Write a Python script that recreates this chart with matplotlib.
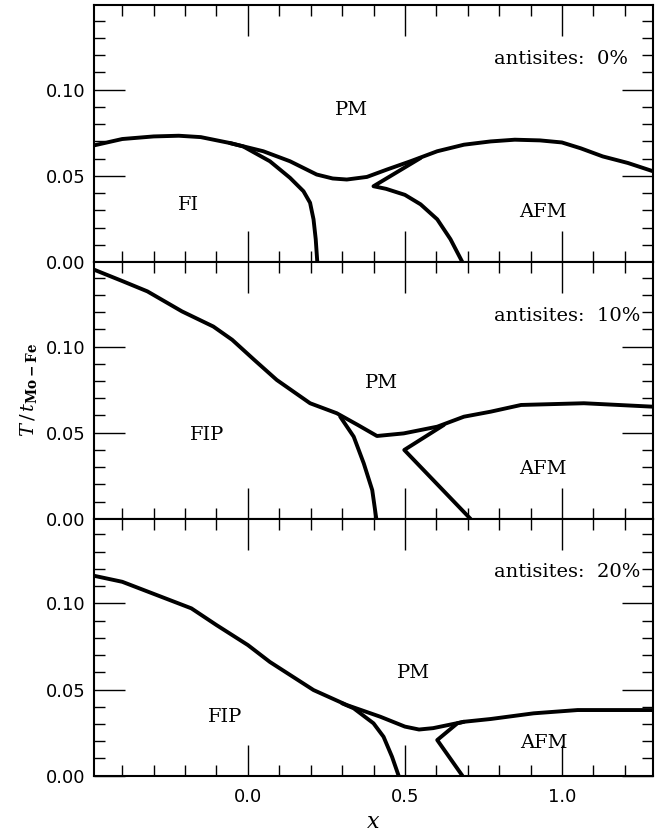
import numpy as np
import matplotlib
matplotlib.use('Agg')
import matplotlib.pyplot as plt
from matplotlib.ticker import MultipleLocator, FormatStrFormatter

plt.rcParams['mathtext.fontset'] = 'dejavuserif'

# phase boundaries, one set per antisite concentration
# 0 % antisites
pm0_x = [-0.49, -0.40, -0.30, -0.22, -0.15, -0.058, 0.049, 0.134, 0.219, 0.27, 0.315, 0.379, 0.443,
         0.518, 0.603, 0.688, 0.773, 0.85, 0.93, 1.00, 1.06, 1.13, 1.21, 1.29]
pm0_y = [0.0677, 0.0714, 0.0729, 0.0733, 0.0725, 0.0691, 0.0643, 0.0585, 0.0508, 0.0485, 0.0479,
         0.0494, 0.0537, 0.0585, 0.0643, 0.0681, 0.0700, 0.0710, 0.0706, 0.0694, 0.0660, 0.0613,
         0.0575, 0.0527]
fi0_x = [-0.058, -0.015, 0.07, 0.134, 0.177, 0.198, 0.209, 0.216, 0.221]
fi0_y = [0.0691, 0.0671, 0.0585, 0.0489, 0.0411, 0.0344, 0.0248, 0.0133, 0.0]
afm0_x = [0.55, 0.475, 0.400, 0.44, 0.50, 0.55, 0.603, 0.645, 0.683]
afm0_y = [0.0604, 0.0522, 0.0440, 0.0425, 0.0390, 0.0335, 0.0248, 0.0133, 0.0]

# 10 % antisites
pm10_x = [-0.49, -0.40, -0.32, -0.21, -0.11, -0.05, 0.02, 0.092, 0.198, 0.283, 0.35, 0.411,
          0.496, 0.603, 0.688, 0.773, 0.87, 1.07, 1.29]
pm10_y = [0.1446, 0.1380, 0.1320, 0.1204, 0.1116, 0.1039, 0.0923, 0.0806, 0.0671, 0.0613, 0.0545,
          0.0481, 0.0496, 0.0535, 0.0593, 0.0622, 0.0661, 0.0671, 0.0651]
fip10_x = [0.294, 0.337, 0.369, 0.396, 0.409]
fip10_y = [0.0593, 0.0477, 0.0322, 0.0167, 0.0]
afm10_x = [0.624, 0.498, 0.709]
afm10_y = [0.0545, 0.0400, 0.0]

# 20 % antisites
pm20_x = [-0.49, -0.40, -0.29, -0.18, -0.10, 0.0, 0.07, 0.209, 0.315, 0.422, 0.50, 0.545, 0.59,
          0.688, 0.773, 0.91, 1.05, 1.29]
pm20_y = [0.1160, 0.1125, 0.1048, 0.0971, 0.0874, 0.0758, 0.0660, 0.0497, 0.0410, 0.0342, 0.0285,
          0.0268, 0.0276, 0.0313, 0.0329, 0.0362, 0.0381, 0.0381]
fip20_x = [0.30, 0.337, 0.40, 0.432, 0.459, 0.480]
fip20_y = [0.0420, 0.0391, 0.0304, 0.0226, 0.0110, 0.0]
afm20_x = [0.688, 0.667, 0.603, 0.683]
afm20_y = [0.0313, 0.0304, 0.0207, 0.0]

panels = [
    ("antisites:  0%", [(pm0_x, pm0_y), (fi0_x, fi0_y), (afm0_x, afm0_y)],
     [("PM", 0.33, 0.088), ("FI", -0.19, 0.033), ("AFM", 0.94, 0.029)]),
    ("antisites:  10%", [(pm10_x, pm10_y), (fip10_x, fip10_y), (afm10_x, afm10_y)],
     [("PM", 0.425, 0.0787), ("FIP", -0.13, 0.0487), ("AFM", 0.94, 0.029)]),
    ("antisites:  20%", [(pm20_x, pm20_y), (fip20_x, fip20_y), (afm20_x, afm20_y)],
     [("PM", 0.526, 0.0594), ("FIP", -0.072, 0.0339), ("AFM", 0.943, 0.0188)]),
]

fig = plt.figure(figsize=(6.64, 8.35), dpi=100)
axs = fig.subplots(3, 1, sharex=True)
fig.subplots_adjust(left=0.1416, right=0.9834, top=0.9937, bottom=0.0710, hspace=0)

for ax, (title, curves, labels) in zip(axs, panels):
    for cx, cy in curves:
        ax.plot(cx, cy, color='black', lw=2.8, solid_capstyle='round', solid_joinstyle='round')
    for txt, tx, ty in labels:
        ax.text(tx, ty, txt, family='DejaVu Serif', fontsize=14, ha='center', va='center')
    ax.text(0.783, 0.118, title, family='DejaVu Serif', fontsize=14, ha='left', va='center')

    ax.set_xlim(-0.49, 1.29)
    ax.set_ylim(0, 0.149)
    ax.xaxis.set_major_locator(MultipleLocator(0.5))
    ax.xaxis.set_minor_locator(MultipleLocator(0.1))
    ax.yaxis.set_major_locator(MultipleLocator(0.05))
    ax.yaxis.set_minor_locator(MultipleLocator(0.01))
    ax.yaxis.set_major_formatter(FormatStrFormatter('%.2f'))
    ax.xaxis.set_major_formatter(FormatStrFormatter('%.1f'))
    ax.tick_params(which='both', direction='in', top=True, right=True, width=1.0, labelsize=13)
    ax.tick_params(which='major', length=22, pad=6)
    ax.tick_params(which='minor', length=8)
    ax.tick_params(axis='x', which='major', pad=9)
    for sp in ax.spines.values():
        sp.set_linewidth(1.5)

axs[2].set_xlabel(r'$x$', fontsize=16, labelpad=4)
fig.text(0.043, 0.533, r'$T\,/\,t_{\mathbf{Mo-Fe}}$', rotation=90, fontsize=14,
         ha='center', va='center')

fig.savefig('out.png', dpi=100)
